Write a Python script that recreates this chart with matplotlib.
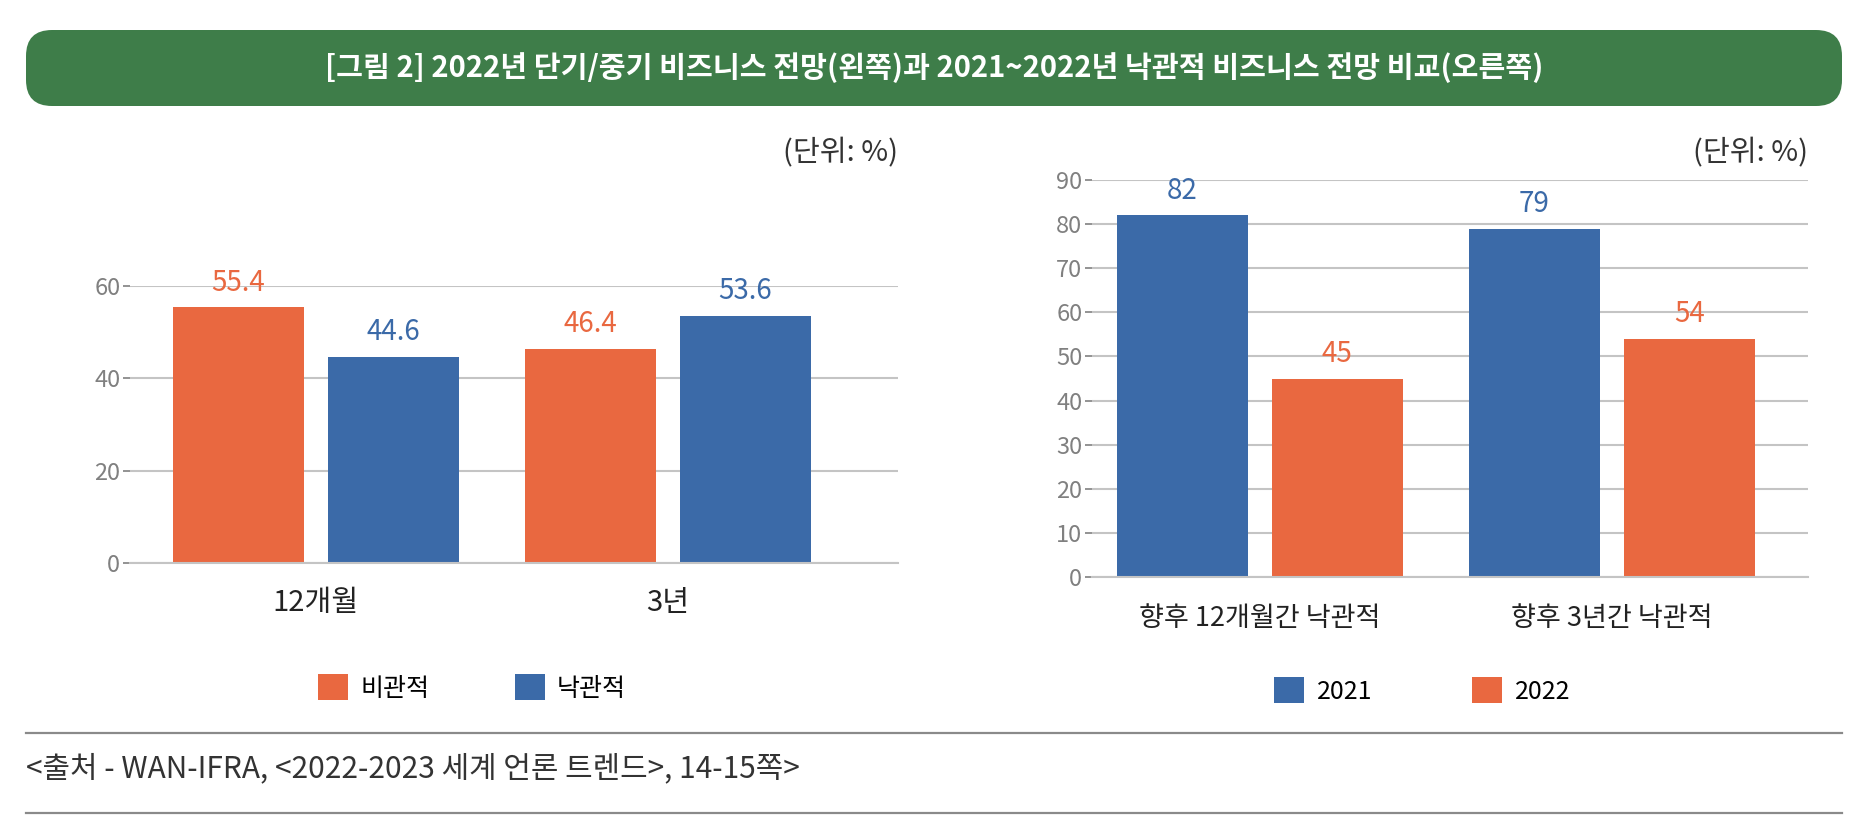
import numpy as np
import matplotlib.pyplot as plt
from matplotlib.patches import FancyBboxPatch

plt.rcParams['font.family'] = ['Noto Sans CJK KR', 'DejaVu Sans']

# left chart data
left_cats = ['12개월', '3년']
pessimistic = [55.4, 46.4]
optimistic = [44.6, 53.6]
left_ticks = [0, 20, 40, 60]

# right chart data
right_cats = ['향후 12개월간 낙관적', '향후 3년간 낙관적']
y2021 = [82, 79]
y2022 = [45, 54]
right_ticks = list(range(0, 100, 10))

title = '[그림 2] 2022년 단기/중기 비즈니스 전망(왼쪽)과 2021~2022년 낙관적 비즈니스 전망 비교(오른쪽)'
source = '<출처 - WAN-IFRA, <2022-2023 세계 언론 트렌드>, 14-15쪽>'

ORANGE = '#E96840'
BLUE = '#3B6AA8'
GREEN = '#3E7D49'
GRID = '#C4C4C4'
TICK = '#808080'

W, H = 1870, 831
fig = plt.figure(figsize=(W / 100, H / 100), dpi=100)

# background layer in pixel coordinates for banner / rules
bg = fig.add_axes([0, 0, 1, 1])
bg.set_xlim(0, W)
bg.set_ylim(H, 0)
bg.axis('off')
bg.add_patch(FancyBboxPatch((26, 30), 1816, 76, boxstyle='round,pad=0,rounding_size=26',
                            facecolor=GREEN, edgecolor='none'))
bg.text(934, 68, title, color='white', fontsize=21, fontweight='bold', ha='center', va='center')
bg.plot([26, 1842], [733, 733], color='#8a8a8a', lw=1.6)
bg.plot([26, 1842], [813, 813], color='#8a8a8a', lw=1.6)
bg.text(26, 769, source, color='#333333', fontsize=21.5, ha='left', va='center')


def style_axes(ax, ticks):
    for s in ['top', 'right', 'left']:
        ax.spines[s].set_visible(False)
    ax.spines['bottom'].set_color(GRID)
    ax.spines['bottom'].set_linewidth(1.5)
    ax.set_yticks(ticks)
    ax.yaxis.grid(True, color=GRID, lw=1.5)
    ax.set_axisbelow(True)
    ax.tick_params(axis='y', colors=TICK, labelsize=17, length=5, width=1.2, pad=2)
    ax.tick_params(axis='x', length=0, labelcolor='#222222')


w = 0.372
off = 0.22

# left chart
axl = fig.add_axes([130 / W, 1 - 563 / H, 768 / W, 277 / H])
x = np.arange(len(left_cats))
b1 = axl.bar(x - off, pessimistic, w, color=ORANGE, label='비관적')
b2 = axl.bar(x + off, optimistic, w, color=BLUE, label='낙관적')
axl.set_ylim(0, 60)
axl.set_xlim(-0.528, 1.653)
style_axes(axl, left_ticks)
axl.set_xticks(x, left_cats)
axl.tick_params(axis='x', pad=18, labelsize=21)
for bars, col in [(b1, ORANGE), (b2, BLUE)]:
    for r in bars:
        axl.annotate(f'{r.get_height():.1f}', (r.get_x() + r.get_width() / 2, r.get_height()),
                     xytext=(0, 7), textcoords='offset points', ha='center', va='bottom',
                     color=col, fontsize=20, clip_on=False)
axl.text(1.0, 1 + (286 - 153) / 277, '(단위: %)', transform=axl.transAxes, ha='right', va='center',
         fontsize=21, color='#333333', clip_on=False)
axl.legend(loc='center left', bbox_to_anchor=(318 / W, 1 - 688 / H), bbox_transform=fig.transFigure,
           ncol=2, frameon=False, fontsize=18, handlelength=1.2, handleheight=1.2,
           handletextpad=0.5, columnspacing=3.4, borderpad=0, borderaxespad=0)

# right chart
axr = fig.add_axes([1092 / W, 1 - 577 / H, 716 / W, 397 / H])
x = np.arange(len(right_cats))
c1 = axr.bar(x - off, y2021, w, color=BLUE, label='2021')
c2 = axr.bar(x + off, y2022, w, color=ORANGE, label='2022')
axr.set_ylim(0, 90)
axr.set_xlim(-0.477, 1.557)
style_axes(axr, right_ticks)
axr.set_xticks(x, right_cats)
axr.tick_params(axis='x', pad=20, labelsize=19.5)
for bars, col in [(c1, BLUE), (c2, ORANGE)]:
    for r in bars:
        axr.annotate(f'{r.get_height():.0f}', (r.get_x() + r.get_width() / 2, r.get_height()),
                     xytext=(0, 7), textcoords='offset points', ha='center', va='bottom',
                     color=col, fontsize=20, clip_on=False)
axr.text(1.0, 1 + (180 - 153) / 397, '(단위: %)', transform=axr.transAxes, ha='right', va='center',
         fontsize=21, color='#333333', clip_on=False)
axr.legend(loc='center left', bbox_to_anchor=(1274 / W, 1 - 691 / H), bbox_transform=fig.transFigure,
           ncol=2, frameon=False, fontsize=18, handlelength=1.2, handleheight=1.2,
           handletextpad=0.5, columnspacing=4.0, borderpad=0, borderaxespad=0)

fig.savefig('out.png', dpi=100)
